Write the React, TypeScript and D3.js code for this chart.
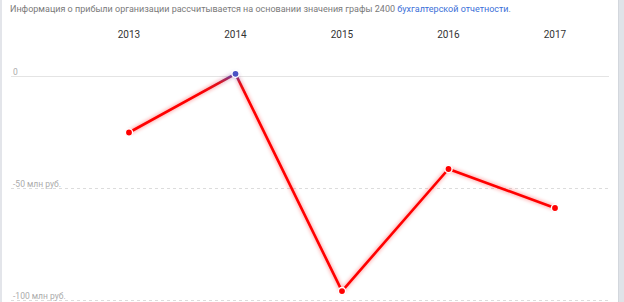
import React from "react";
import * as d3 from "d3";

const years = ["2013", "2014", "2015", "2016", "2017"];
const profit = [-25, 1.2, -95.8, -41.3, -58.7];
const yTicks = [0, -50, -100];
const tickLabels = ["0", "-50 млн руб.", "-100 млн руб."];

const W = 624;
const H = 302;

export default function App() {
  const x = d3.scalePoint<string>().domain(years).range([129, 555]);
  const y = d3.scaleLinear().domain([-100, 0]).range([300.5, 76.5]);

  const data = years.map((yr, i) => ({ yr, v: profit[i] }));
  const line = d3
    .line<{ yr: string; v: number }>()
    .x((d) => x(d.yr) as number)
    .y((d) => y(d.v));

  const font = "Roboto, 'Noto Sans', sans-serif";

  return (
    <div style={{ position: "fixed", left: 0, top: 0, width: W, height: H, background: "#fff" }}>
      <svg width={W} height={H} style={{ display: "block" }}>
        <defs>
          <linearGradient id="lineGrad" gradientUnits="userSpaceOnUse" x1="0" x2="0" y1={y(-8)} y2={y(1.2)}>
            <stop offset="0" stopColor="#ff0000" />
            <stop offset="0.55" stopColor="#e0101a" />
            <stop offset="1" stopColor="#5a4bb8" />
          </linearGradient>
          <filter id="glow" x="-10%" y="-10%" width="120%" height="120%">
            <feGaussianBlur in="SourceGraphic" stdDeviation="2.2" result="b" />
            <feComponentTransfer in="b" result="b2">
              <feFuncA type="linear" slope="0.55" />
            </feComponentTransfer>
            <feMerge>
              <feMergeNode in="b2" />
              <feMergeNode in="SourceGraphic" />
            </feMerge>
          </filter>
        </defs>

        {/* panel borders */}
        <rect x={0} y={0} width={2} height={H} fill="#e3e5ea" />
        <rect x={618} y={0} width={6} height={H} fill="#dfe3e8" />
        <rect x={618} y={0} width={1} height={H} fill="#d3d7dd" />

        {/* note */}
        <text x={10} y={11.5} fontFamily={font} fontSize={9} fill="#7a7a7a">
          Информация о прибыли организации рассчитывается на основании значения графы 2400{" "}
          <tspan fill="#3b6fd8">бухгалтерской отчетности</tspan>.
        </text>

        {/* years */}
        {years.map((yr) => (
          <text key={yr} x={x(yr)} y={37.5} textAnchor="middle" fontFamily={font} fontSize={10} fill="#333">
            {yr}
          </text>
        ))}

        {/* grid */}
        {yTicks.map((t, i) => (
          <g key={t}>
            <line
              x1={11}
              x2={609}
              y1={y(t)}
              y2={y(t)}
              stroke={t === 0 ? "#e4e4e4" : "#dcdcdc"}
              strokeWidth={1}
              strokeDasharray={t === 0 ? undefined : "3,3"}
            />
            <text x={13} y={y(t) - 2} fontFamily={font} fontSize={8.5} fill="#ababab">
              {tickLabels[i]}
            </text>
          </g>
        ))}

        {/* profit line */}
        <path
          d={line(data) || ""}
          fill="none"
          stroke="url(#lineGrad)"
          strokeWidth={2.6}
          strokeLinejoin="round"
          filter="url(#glow)"
        />
        {data.map((d) => (
          <circle
            key={d.yr}
            cx={x(d.yr)}
            cy={y(d.v)}
            r={3.6}
            fill={d.v >= 0 ? "#4a52c4" : "#ff0000"}
            stroke="#fff"
            strokeWidth={1.4}
          />
        ))}
      </svg>
    </div>
  );
}
